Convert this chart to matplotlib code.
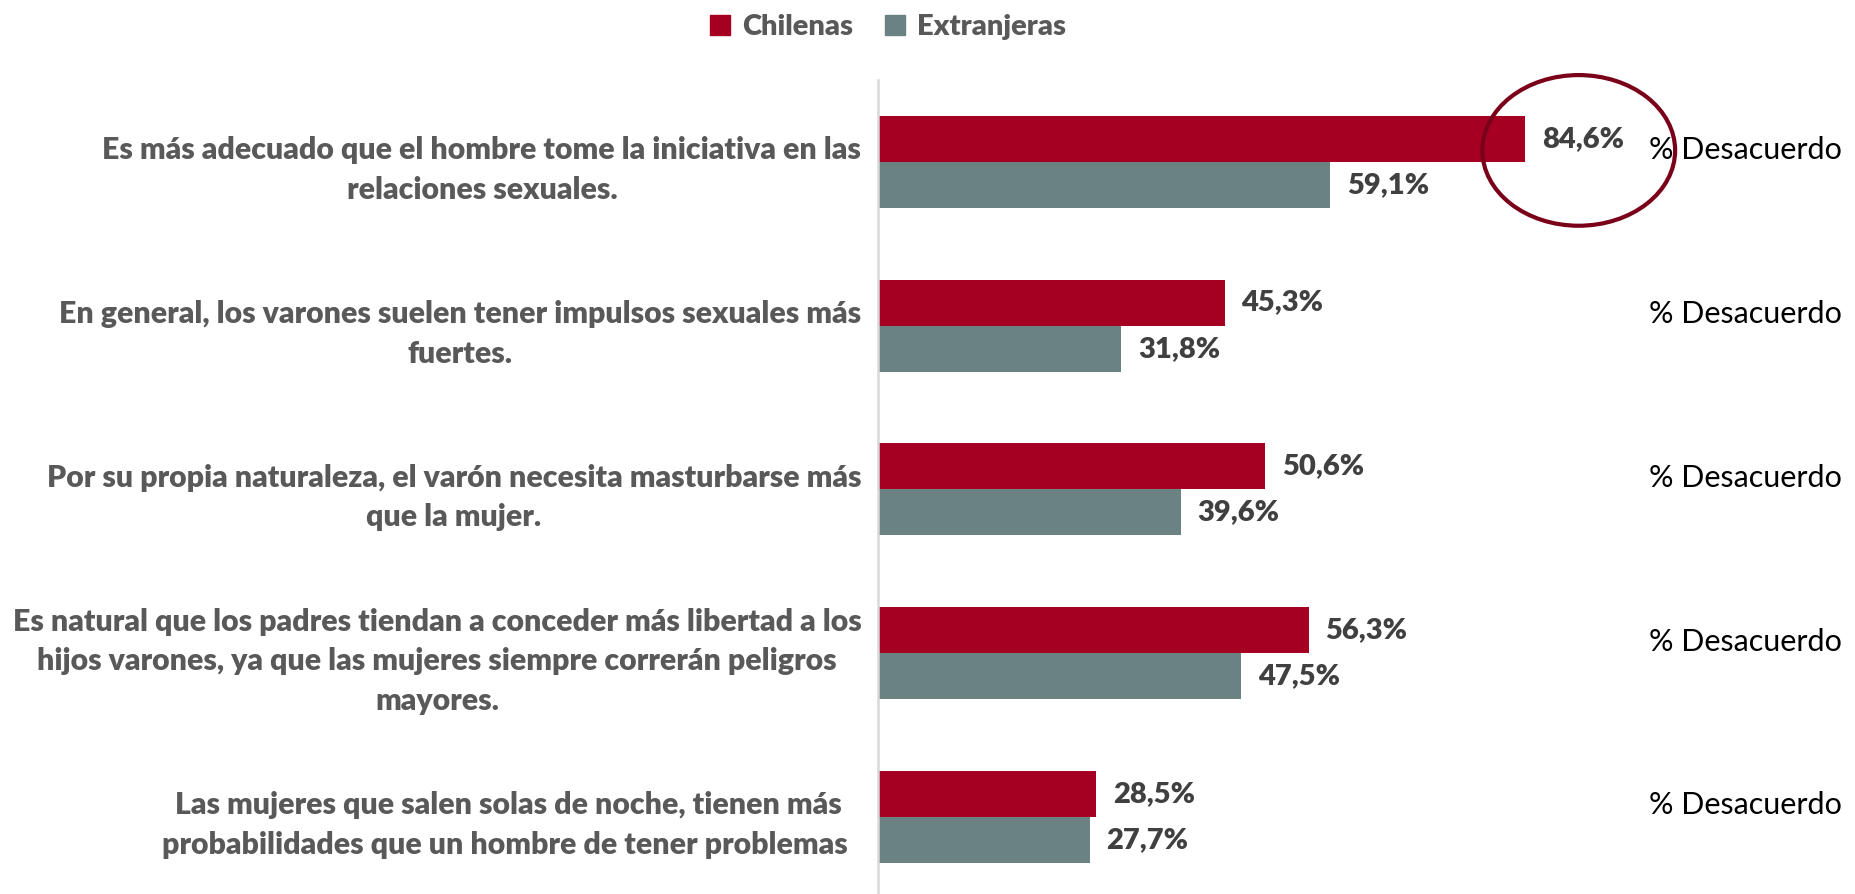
import matplotlib.pyplot as plt
import numpy as np
from matplotlib.patches import Patch, Ellipse
from matplotlib.transforms import blended_transform_factory

# data
categories = [
    "Es más adecuado que el hombre tome la iniciativa en las\nrelaciones sexuales.",
    "En general, los varones suelen tener impulsos sexuales más\nfuertes.",
    "Por su propia naturaleza, el varón necesita masturbarse más\nque la mujer.",
    "Es natural que los padres tiendan a conceder más libertad a los\nhijos varones, ya que las mujeres siempre correrán peligros\nmayores.",
    "Las mujeres que salen solas de noche, tienen más \nprobabilidades que un hombre de tener problemas  ",
]
chilenas = [84.6, 45.3, 50.6, 56.3, 28.5]
extranjeras = [59.1, 31.8, 39.6, 47.5, 27.7]
series_names = ["Chilenas", "Extranjeras"]
side_label = "% Desacuerdo"

RED = "#A50021"
GREY = "#6B8283"
LABEL_GREY = "#595959"
VALUE_GREY = "#404040"

plt.rcParams['font.family'] = ['Lato', 'DejaVu Sans']

W, H = 1855, 894
fig = plt.figure(figsize=(W / 100, H / 100), dpi=100)

# axes: left edge at x=878px, top at y=80px, 5 bands of ~164px
left = 878 / W
top = 80 / H
band = 163.75
ax = fig.add_axes([left, 1 - top - 5 * band / H, 1 - left, 5 * band / H])

y = np.arange(len(categories))
h = 0.281
ax.barh(y - h / 2, chilenas, h, color=RED)
ax.barh(y + h / 2, extranjeras, h, color=GREY)

ax.set_xlim(0, (W - 878) / 7.65)
ax.set_ylim(4.5, -0.5)

for i in range(len(categories)):
    ax.annotate(f"{chilenas[i]:.1f}%".replace(".", ","), (chilenas[i], y[i] - h / 2),
                xytext=(12, 0), textcoords="offset points", va="center", ha="left",
                fontsize=21, fontweight="heavy", color=VALUE_GREY)
    ax.annotate(f"{extranjeras[i]:.1f}%".replace(".", ","), (extranjeras[i], y[i] + h / 2),
                xytext=(12, 0), textcoords="offset points", va="center", ha="left",
                fontsize=21, fontweight="heavy", color=VALUE_GREY)

# category labels on the left, centred lines, right-aligned block
ax.set_yticks(y)
ax.set_yticklabels(categories, fontsize=21.8, fontweight="heavy", color=LABEL_GREY,
                   multialignment="center", linespacing=1.5)
ax.tick_params(axis="y", length=0, pad=12)
ax.set_xticks([])

for s in ["top", "right", "bottom"]:
    ax.spines[s].set_visible(False)
ax.spines["left"].set_color("#D9D9D9")
ax.spines["left"].set_linewidth(1.8)

# "% Desacuerdo" labels at the far right
tr = blended_transform_factory(fig.transFigure, ax.transData)
for i in range(len(categories)):
    ax.text(0.993, y[i] - 0.07, side_label, transform=tr, ha="right", va="center",
            fontsize=22, color="black")

# highlight circle around the top value
ax.add_patch(Ellipse((chilenas[0] + 7, y[0] - 0.07), 25.2, 0.92, fill=False,
                     edgecolor="#7A0019", linewidth=3, clip_on=False, zorder=5))

handles = [Patch(color=RED), Patch(color=GREY)]
fig.legend(handles, series_names, loc="center", bbox_to_anchor=(888 / W, 1 - 27 / H),
           ncol=2, frameon=False, handlelength=0.7, handleheight=0.7,
           handletextpad=0.4, columnspacing=1.1,
           prop={"size": 21, "weight": "heavy"}, labelcolor=LABEL_GREY)

fig.savefig("out.png", dpi=100)
